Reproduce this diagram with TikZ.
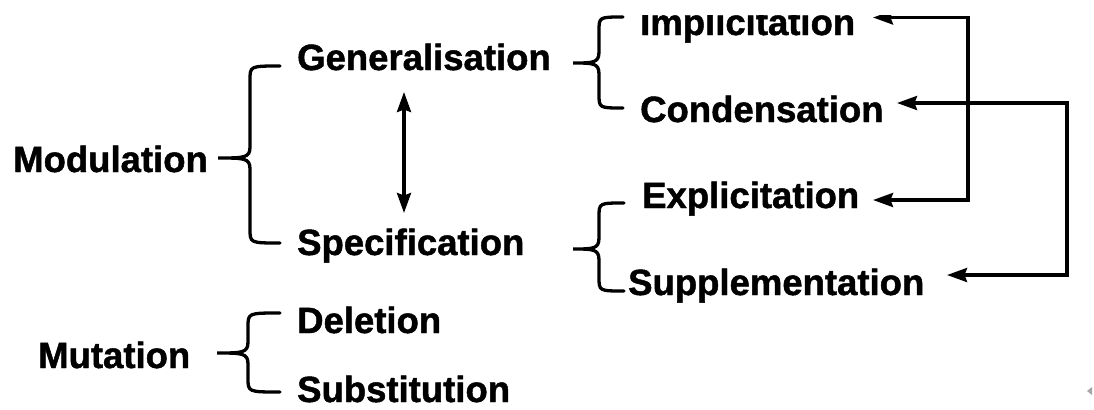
\documentclass[tikz,border=0pt]{standalone}
\usepackage{fontspec}
\setmainfont[BoldFeatures={FakeBold=1.3}]{Liberation Sans}
\usetikzlibrary{arrows.meta}
\newcommand{\drawbrace}[6]{%
  \draw[brc] (#1,#2) .. controls (#3,#2) .. (#3,#2+14) -- (#3,#5-11)
    .. controls (#3,#5) and (#3-6,#5) .. (#4,#5)
    .. controls (#3-6,#5) and (#3,#5) .. (#3,#5+11) -- (#3,#6-14)
    .. controls (#3,#6) .. (#1,#6);}
\begin{document}
\begin{tikzpicture}[x=1bp,y=-1bp,
  lbl/.style={anchor=base west, inner sep=0pt, font=\fontsize{36.5bp}{40bp}\selectfont\bfseries},
  brc/.style={line width=3.3bp, line cap=round},
  link/.style={line width=3.3bp, {Stealth[length=20bp,width=14bp,inset=2.5bp]}-{Stealth[length=20bp,width=14bp,inset=2.5bp]}}]
\useasboundingbox (0,0) rectangle (1094,409);
\fill[white] (0,0) rectangle (1094,409);
\begin{scope}
\clip (0,15.5) rectangle (1094,409);
% labels
\node[lbl] (mod)  at (13,172)  {Modulation};
\node[lbl] (gen)  at (297,70)  {Generalisation};
\node[lbl] (spec) at (297,255) {Specification};
\node[lbl] (impl) at (640,35)  {Implicitation};
\node[lbl] (cond) at (640,122) {Condensation};
\node[lbl] (expl) at (642,208) {Explicitation};
\node[lbl] (supp) at (628,295) {Supplementation};
\node[lbl] (mut)  at (38,368)  {Mutation};
\node[lbl] (del)  at (297,333) {Deletion};
\node[lbl] (subs) at (297,402) {Substitution};
% braces
\drawbrace{280}{66}{250}{218}{158}{243}
\drawbrace{280}{313}{248}{217}{353}{392}
\drawbrace{623}{17}{599}{573}{63}{108}
\drawbrace{624}{203}{599}{573}{249}{291}
% connector end points
\coordinate (ga) at (404,92);
\coordinate (sa) at (404,213);
\coordinate (ia) at (873,17.5);
\coordinate (ea) at (873,200);
\coordinate (ca) at (897,103);
\coordinate (pa) at (947,275);
\draw[link] (ga) -- (sa);
\draw[link] (ia) -- (968,17.5) -- (968,200) -- (ea);
\draw[link] (ca) -- (1067,103) -- (1067,275) -- (pa);
\end{scope}
\fill[gray!70] (1087,391) -- (1092,387) -- (1092,395) -- cycle;
\end{tikzpicture}
\end{document}
